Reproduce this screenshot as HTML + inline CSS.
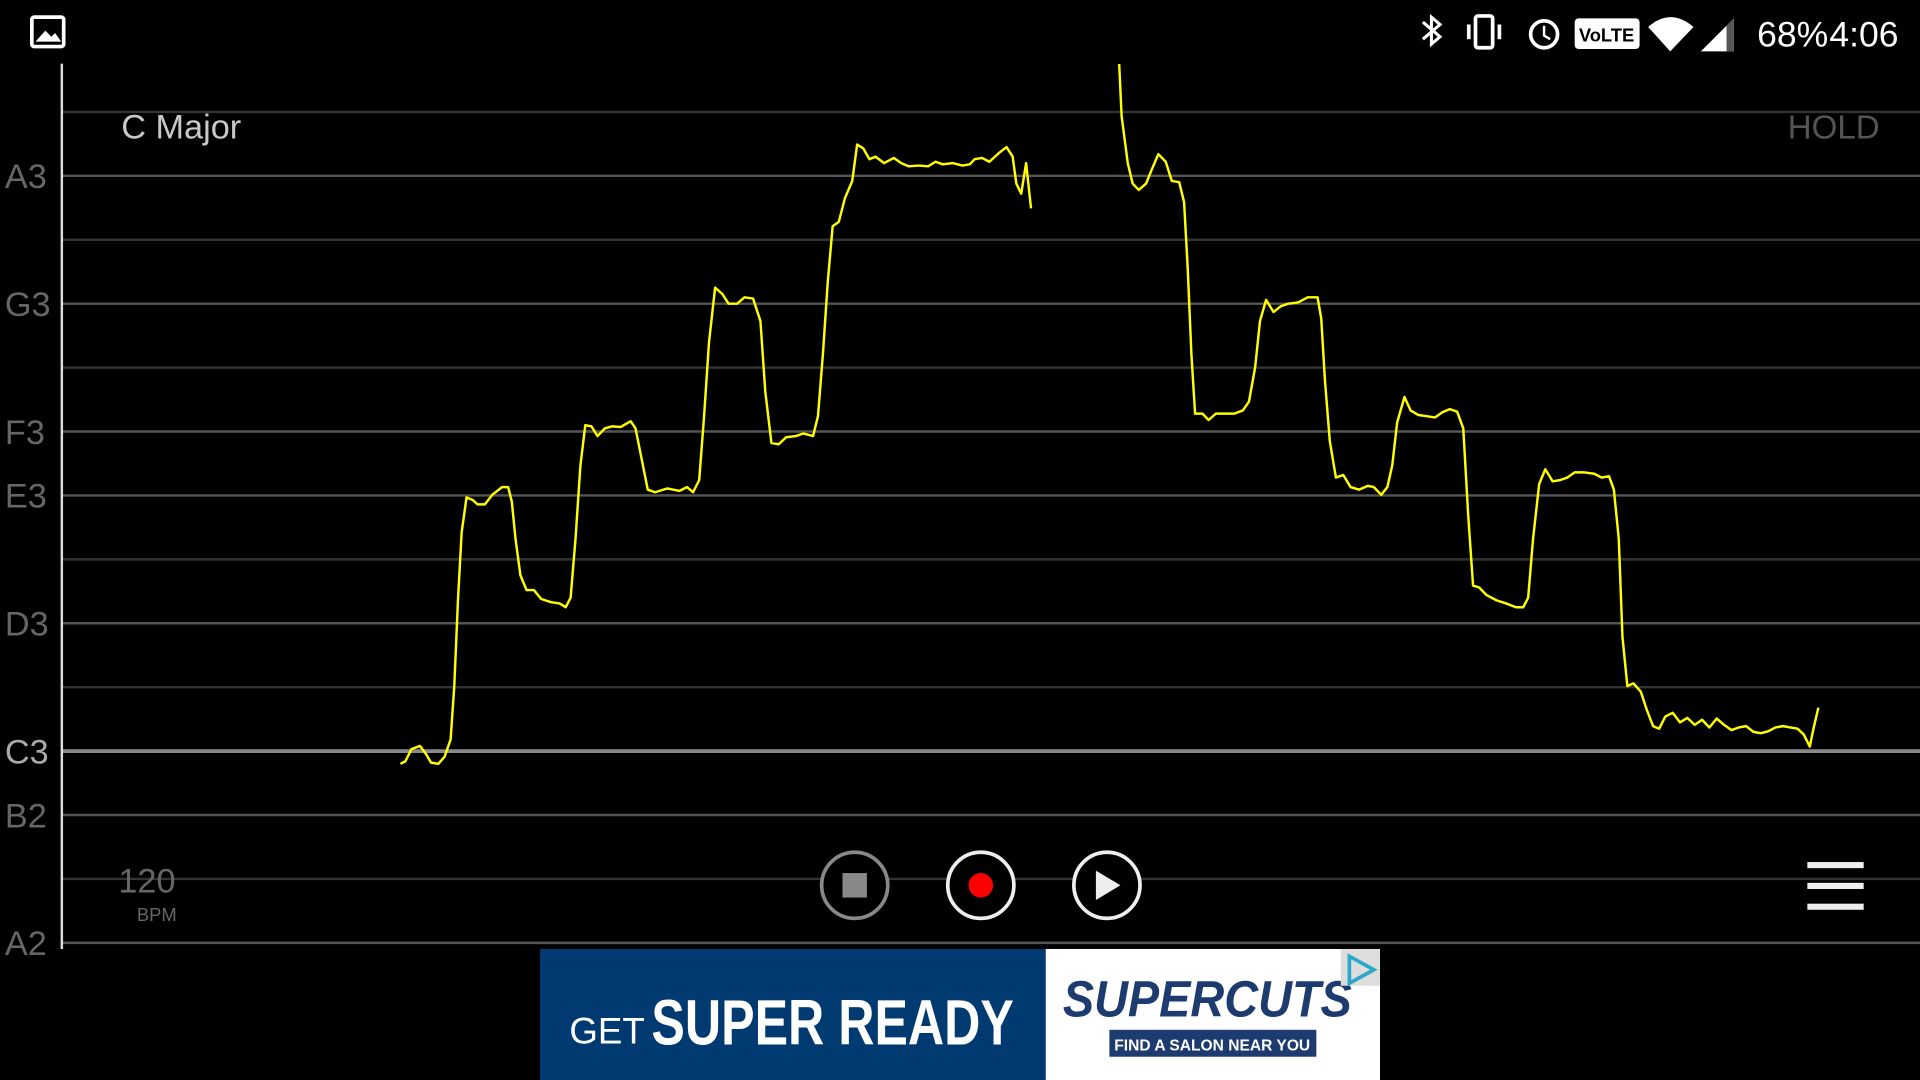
<!DOCTYPE html>
<html><head><meta charset="utf-8"><style>
html,body{margin:0;padding:0;background:#000;width:1920px;height:1080px;overflow:hidden}
svg{display:block}
text{font-family:"Liberation Sans",sans-serif}
</style></head><body>
<svg id="chart" width="1920" height="1080" viewBox="0 0 1568 882" preserveAspectRatio="none" xmlns="http://www.w3.org/2000/svg">
<rect x="0" y="0" width="1568" height="882" fill="#000"/>
<g id="statusbar">
  <rect x="26" y="14" width="26" height="24" rx="2" fill="none" stroke="#fff" stroke-width="3"/>
  <path d="M29 34 L37 25 L42 30 L45 27 L50 34 Z" fill="#fff"/>
  <path d="M1162 18 L1176 30 L1169 36 L1169 14 L1176 20 L1162 32" fill="none" stroke="#fff" stroke-width="2.5"/>
  <rect x="1205" y="13" width="14" height="26" rx="2" fill="none" stroke="#fff" stroke-width="3"/>
  <rect x="1198" y="20" width="3" height="12" fill="#fff"/>
  <rect x="1223" y="20" width="3" height="12" fill="#fff"/>
  <circle cx="1261" cy="28" r="11" fill="none" stroke="#fff" stroke-width="3"/>
  <path d="M1261 21 L1261 29 L1266 32" fill="none" stroke="#fff" stroke-width="2"/>
  <rect x="1286" y="15" width="53" height="25" rx="3" fill="#fff"/>
  <text x="1312" y="34" font-size="15" font-weight="bold" fill="#000" text-anchor="middle">VoLTE</text>
  <path d="M1346 22 Q1364 6 1383 22 L1364 42 Z" fill="#fff"/>
  <path d="M1389 42 L1416 15 L1416 42 Z" fill="#fff"/>
  <path d="M1410 21 L1416 15 L1416 42 L1410 42 Z" fill="#555"/>
  <text x="1435" y="38" font-size="29" fill="#fff">68%</text>
  <text x="1494" y="38" font-size="29" fill="#fff">4:06</text>
</g>
<g id="grid"></g>
<g id="labels"></g>
<line x1="50.5" y1="52" x2="50.5" y2="775" stroke="#ddd" stroke-width="2"/>
<text x="99" y="113" font-size="28" fill="#c8c8c8">C Major</text>
<text x="1535" y="113" font-size="27" fill="#555" text-anchor="end">HOLD</text>
<g id="series"></g>
<text x="120" y="729" font-size="28" fill="#666" text-anchor="middle">120</text>
<text x="128" y="752" font-size="15" fill="#666" text-anchor="middle">BPM</text>
<g>
  <circle cx="698" cy="723" r="27" fill="#000" stroke="#888" stroke-width="3"/>
  <rect x="688" y="713" width="20" height="20" fill="#888"/>
</g>
<g>
  <circle cx="801" cy="723" r="27" fill="#000" stroke="#eee" stroke-width="3"/>
  <circle cx="801" cy="723" r="10" fill="#f00"/>
</g>
<g>
  <circle cx="904" cy="723" r="27" fill="#000" stroke="#eee" stroke-width="3"/>
  <path d="M895 711 L915 723 L895 735 Z" fill="#eee"/>
</g>
<g fill="#eee">
  <rect x="1476" y="704" width="46" height="5"/>
  <rect x="1476" y="721" width="46" height="5"/>
  <rect x="1476" y="738" width="46" height="5"/>
</g>
<g>
  <rect x="441" y="775" width="413" height="107" fill="#003a70"/>
  <rect x="854" y="775" width="273" height="107" fill="#fff"/>
  <text x="465" y="852" font-size="30" fill="#fff">GET</text>
  <text x="532" y="853" font-size="52" font-weight="bold" fill="#fff" textLength="296" lengthAdjust="spacingAndGlyphs">SUPER READY</text>
  <text x="868" y="830" font-size="42" font-weight="bold" font-style="italic" fill="#1d3b6f" textLength="236" lengthAdjust="spacingAndGlyphs">SUPERCUTS</text>
  <rect x="906" y="841" width="169" height="22" fill="#1d3b6f"/>
  <text x="990" y="858" font-size="13" font-weight="bold" fill="#fff" text-anchor="middle" textLength="160" lengthAdjust="spacingAndGlyphs">FIND A SALON NEAR YOU</text>
  <rect x="1095" y="775" width="32" height="30" fill="#ddd"/>
  <path d="M1102 781 L1122 792 L1102 803 Z" fill="none" stroke="#2aa8c9" stroke-width="3"/>
</g>
</svg>
<script>
// Grid / axis data
const noteNames = ["A2","","B2","C3","","D3","","E3","F3","","G3","","A3",""];
const gridSemis = [0,1,2,3,4,5,6,7,8,9,10,11,12,13];
// Pitch series (time in beats, pitch in semitones above A2)
const seg1Time = [3.27,3.31,3.36,3.43,3.48,3.52,3.58,3.63,3.68,3.71,3.74,3.77,3.81,3.86,3.90,3.96,4.02,4.10,4.15,4.18,4.21,4.25,4.30,4.36,4.42,4.50,4.57,4.62,4.66,4.70,4.74,4.78,4.83,4.88,4.94,5.00,5.07,5.15,5.19,5.24,5.29,5.35,5.45,5.55,5.61,5.66,5.71,5.75,5.79,5.84,5.90,5.95,6.02,6.08,6.15,6.21,6.25,6.30,6.36,6.42,6.50,6.56,6.64,6.68,6.72,6.76,6.80,6.85,6.90,6.96,7.00,7.05,7.10,7.15,7.22,7.30,7.36,7.42,7.50,7.58,7.64,7.70,7.78,7.86,7.92,7.96,8.02,8.08,8.16,8.22,8.27,8.30,8.34,8.38,8.42];
const seg1Pitch = [2.80,2.84,3.03,3.08,2.95,2.82,2.80,2.91,3.18,4.02,5.36,6.42,6.97,6.93,6.86,6.86,7.01,7.13,7.13,6.90,6.32,5.75,5.52,5.52,5.38,5.33,5.31,5.25,5.40,6.32,7.47,8.10,8.08,7.93,8.05,8.08,8.07,8.16,8.05,7.57,7.09,7.05,7.11,7.07,7.13,7.05,7.24,8.24,9.39,10.25,10.15,10.00,10.00,10.10,10.08,9.73,8.62,7.82,7.80,7.91,7.93,7.97,7.93,8.24,9.20,10.34,11.21,11.28,11.65,11.92,12.49,12.43,12.26,12.30,12.20,12.28,12.20,12.15,12.16,12.15,12.22,12.18,12.20,12.16,12.18,12.26,12.28,12.22,12.36,12.45,12.30,11.88,11.72,12.20,11.49];
const seg2Time = [9.14,9.16,9.18,9.21,9.25,9.30,9.36,9.40,9.46,9.52,9.57,9.63,9.67,9.70,9.73,9.76,9.82,9.87,9.93,10.00,10.08,10.15,10.20,10.25,10.29,10.34,10.40,10.46,10.52,10.60,10.68,10.76,10.79,10.82,10.86,10.91,10.97,11.03,11.10,11.17,11.22,11.28,11.33,11.37,11.41,11.47,11.52,11.58,11.65,11.72,11.78,11.84,11.90,11.95,11.99,12.03,12.08,12.14,12.22,12.30,12.38,12.44,12.48,12.52,12.57,12.62,12.68,12.74,12.80,12.86,12.94,13.02,13.08,13.14,13.18,13.22,13.25,13.29,13.34,13.40,13.45,13.50,13.55,13.60,13.66,13.72,13.78,13.84,13.90,13.96,14.02,14.08,14.14,14.20,14.26,14.32,14.38,14.44,14.50,14.56,14.62,14.68,14.73,14.78,14.81,14.85];
const seg2Pitch = [13.75,12.93,12.64,12.20,11.88,11.78,11.88,12.07,12.34,12.22,11.92,11.90,11.59,10.54,9.20,8.28,8.28,8.18,8.28,8.28,8.28,8.33,8.47,9.00,9.73,10.06,9.87,9.96,10.00,10.02,10.10,10.10,9.77,8.81,7.85,7.28,7.32,7.13,7.09,7.15,7.13,7.01,7.13,7.47,8.14,8.54,8.33,8.26,8.24,8.22,8.30,8.35,8.31,8.05,6.70,5.59,5.56,5.44,5.36,5.31,5.25,5.25,5.40,6.32,7.18,7.41,7.22,7.24,7.28,7.36,7.36,7.34,7.28,7.30,7.09,6.32,4.79,4.02,4.06,3.93,3.64,3.39,3.35,3.54,3.60,3.45,3.52,3.41,3.49,3.37,3.51,3.41,3.33,3.37,3.39,3.30,3.28,3.31,3.37,3.39,3.37,3.35,3.26,3.07,3.35,3.68];

const NS="http://www.w3.org/2000/svg";
function yScale(s){return 770 - s*52.2;}
function xScale(t){return t*100;}
const grid=document.getElementById('grid');
const labels=document.getElementById('labels');
gridSemis.forEach((s,i)=>{
  const named = noteNames[i]!=="";
  const l=document.createElementNS(NS,'line');
  
  
  l.setAttribute('x1',50);l.setAttribute('x2',1568);
  l.setAttribute('y1',yScale(s));l.setAttribute('y2',yScale(s));
  l.setAttribute('stroke', s===3?'#8a8a8a':(named?'#555':'#333'));
  l.setAttribute('stroke-width', s===3?3:2);
  grid.appendChild(l);
  if(named){
    const t=document.createElementNS(NS,'text');
    
    
    t.setAttribute('x',4);t.setAttribute('y',yScale(s)+10);
    t.setAttribute('font-size','28');
    t.setAttribute('fill', s===3?'#aaa':'#666');
    t.textContent=noteNames[i];
    labels.appendChild(t);
  }
});
const series=document.getElementById('series');
[[seg1Time,seg1Pitch],[seg2Time,seg2Pitch]].forEach((seg,k)=>{
  const d=seg[0].map((t,i)=>(i?'L':'M')+xScale(t).toFixed(1)+' '+yScale(seg[1][i]).toFixed(1)).join(' ');
  const p=document.createElementNS(NS,'path');
  
  
  p.setAttribute('d',d);
  p.setAttribute('fill','none');
  p.setAttribute('stroke','#ffff00');
  p.setAttribute('stroke-width','2');
  p.setAttribute('stroke-linejoin','round');
  series.appendChild(p);
});
</script>
</body></html>
